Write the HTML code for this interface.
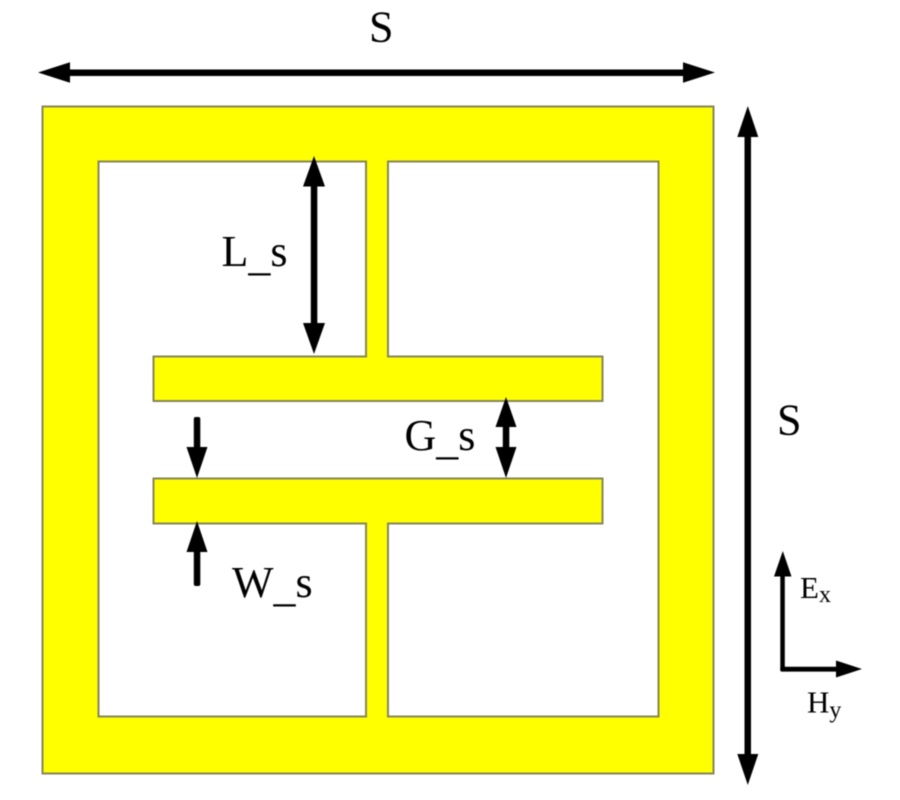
<!DOCTYPE html>
<html>
<head>
<meta charset="utf-8">
<style>
html,body{margin:0;padding:0;background:#fff;}
svg{display:block;filter:blur(0.45px);}
text{font-family:"Liberation Serif",serif;fill:#000;}
</style>
</head>
<body>
<svg width="900" height="800" viewBox="0 0 900 800" xmlns="http://www.w3.org/2000/svg">
<rect width="900" height="800" fill="#fff"/>
<!-- Yellow shape -->
<path fill-rule="evenodd" fill="#ffff00" stroke="#85855a" stroke-width="2" d="M42.500 106.500H713.500V773.500H42.500Z
M98.500 161.500H366V356.500H153.500V401H602.500V356.500H388V161.500H658.500V716.500H388V523.500H602.500V478.500H153.500V523.500H366V716.500H98.500Z"/>
<g fill="#000" stroke="none">
<!-- Top S arrow -->
<rect x="66" y="69.500" width="624" height="6.500"/>
<polygon points="38,72.500 70,62.300 70,82.700"/>
<polygon points="715,72.500 683,62.300 683,82.700"/>
<!-- Right S arrow -->
<rect x="744.500" y="130" width="6.500" height="630"/>
<polygon points="747.800,106 737.300,137 758.300,137"/>
<polygon points="747.800,785 737.300,754 758.300,754"/>
<!-- L_s arrow -->
<rect x="310.800" y="180" width="6.500" height="150"/>
<polygon points="314,156 303,186.500 325,186.500"/>
<polygon points="314,354 303,323 325,323"/>
<!-- G_s arrow -->
<rect x="502.800" y="420" width="6.500" height="38"/>
<polygon points="506,397 495.500,427 516.500,427"/>
<polygon points="506,478 495.500,447 516.500,447"/>
<!-- W_s top arrow -->
<rect x="193.800" y="417" width="6.500" height="35" rx="2"/>
<polygon points="197,478 186.500,447 207.500,447"/>
<!-- W_s bottom arrow -->
<rect x="193.800" y="545" width="6.500" height="41" rx="2"/>
<polygon points="197,521 186.500,552 207.500,552"/>
<!-- Ex / Hy axes -->
<rect x="780.300" y="570" width="4.500" height="101" rx="1.500"/>
<polygon points="782.800,551 774,576.500 791.500,576.500"/>
<rect x="780.300" y="666.800" width="60" height="4.800" rx="1.500"/>
<polygon points="862,669 836,660.500 836,677.500"/>
</g>
<!-- Labels -->
<text x="369" y="41.500" font-size="44">S</text>
<text x="777" y="434.500" font-size="44">S</text>
<text x="221.500" y="266" font-size="44">L<tspan dy="4">_</tspan><tspan dy="-4">s</tspan></text>
<text x="404.500" y="450" font-size="44">G<tspan dy="4">_</tspan><tspan dy="-4">s</tspan></text>
<text x="232" y="597" font-size="44">W<tspan dy="4">_</tspan><tspan dy="-4">s</tspan></text>
<text x="800" y="598" font-size="31">E<tspan font-size="24" dy="4">x</tspan></text>
<text x="807" y="712.500" font-size="31">H<tspan font-size="24" dy="5">y</tspan></text>
</svg>
</body>
</html>
